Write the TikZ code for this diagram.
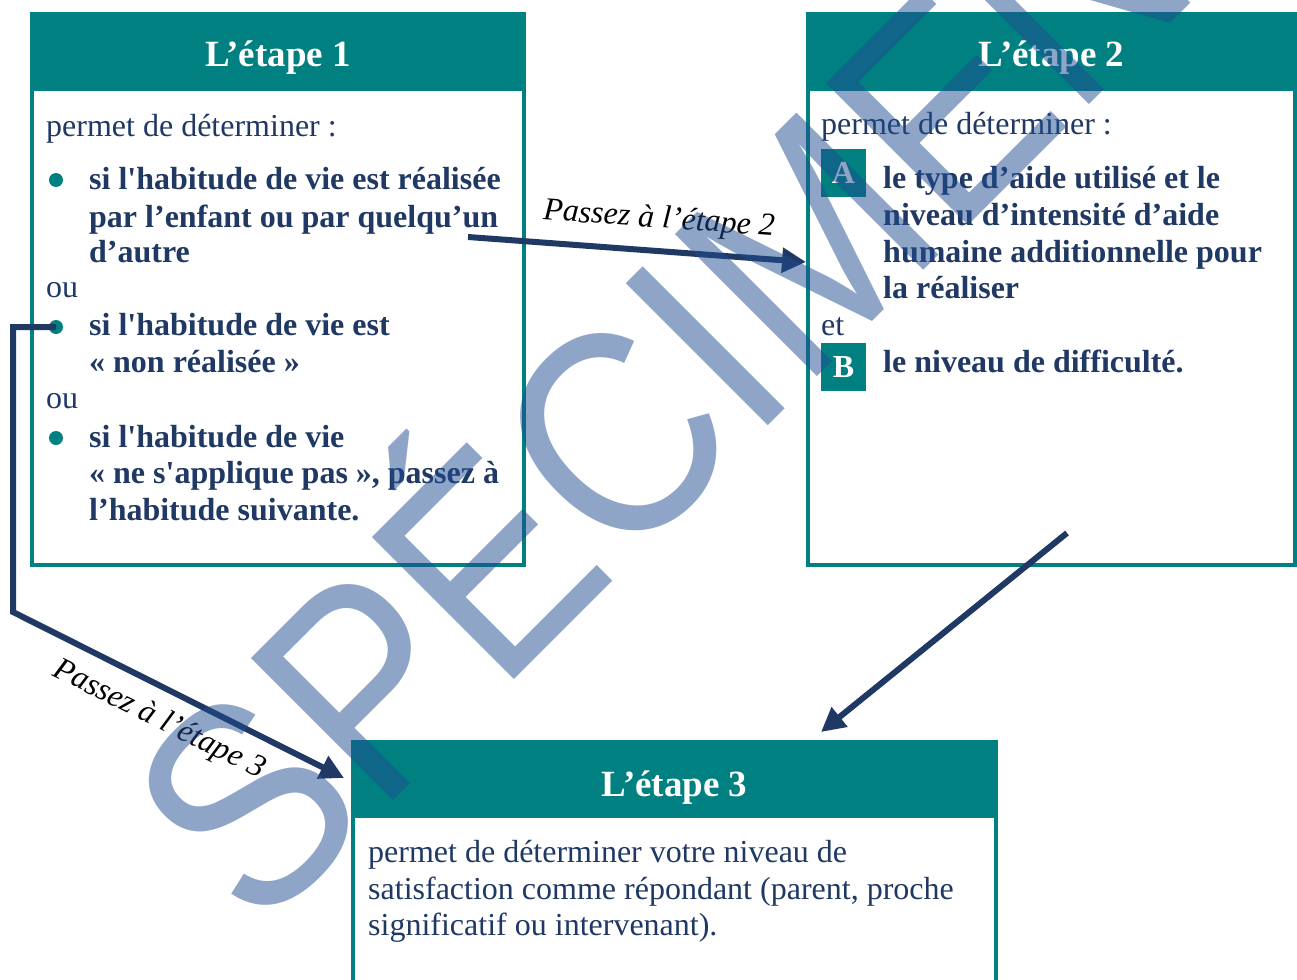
\documentclass[tikz,border=0pt]{standalone}
\usepackage{fontspec}
\setmainfont{Liberation Serif}[Ligatures=TeXOff]
\newfontfamily\wmfont{Liberation Sans}
\usetikzlibrary{arrows.meta}
\definecolor{etapeteal}{HTML}{008080}
\definecolor{etapenavy}{HTML}{1F3864}
\definecolor{wmblue}{HTML}{1F4D91}
\begin{document}
\begin{tikzpicture}[x=1pt,y=-1pt,
 etapebox/.style={draw=etapeteal,line width=4pt,inner sep=0pt},
 etapehead/.style={fill=etapeteal,inner sep=0pt,minimum height=79pt},
 etapetitle/.style={anchor=base,inner sep=0pt,text=white,font=\fontsize{37pt}{40pt}\selectfont\bfseries},
 ligne/.style={anchor=base west,inner sep=0pt,text=etapenavy,font=\fontsize{32pt}{36.8pt}\selectfont},
 ligneb/.style={ligne,font=\fontsize{32pt}{36.8pt}\selectfont\bfseries},
 puce/.style={circle,fill=etapeteal,inner sep=0pt,minimum size=14pt},
 lettre/.style={fill=etapeteal,text=white,inner sep=0pt,minimum width=45pt,minimum height=48pt,font=\fontsize{32pt}{36.8pt}\selectfont\bfseries},
 passez/.style={draw=etapenavy,line width=6pt,-{Triangle[length=24pt,width=24pt]}},
 passezlabel/.style={inner sep=0pt,font=\fontsize{32pt}{36pt}\selectfont\itshape},
 filigrane/.style={anchor=base west,rotate=45,xscale=0.88,inner sep=0pt,text=wmblue,text opacity=0.5,font=\wmfont\fontsize{292pt}{292pt}\selectfont}]
 \path[use as bounding box,fill=white] (0,0) rectangle (1297,979);
 % boxes
 \node[etapebox,minimum width=492pt,minimum height=551pt] (e1) at (278,289.5) {};
 \node[etapehead,minimum width=496pt] (h1) at (278,51.5) {};
 \node[etapetitle] (t1) at (278,67) {L’étape 1};
 \node[etapebox,minimum width=487pt,minimum height=551pt] (e2) at (1051.5,289.5) {};
 \node[etapehead,minimum width=491pt] (h2) at (1051.5,51.5) {};
 \node[etapetitle] (t2) at (1051.5,67) {L’étape 2};
 \node[etapebox,minimum width=643pt,minimum height=256pt] (e3) at (674.5,870) {};
 \node[etapehead,minimum width=647pt,minimum height=78pt] (h3) at (674.5,779) {};
 \node[etapetitle] (t3) at (674.5,796) {L’étape 3};
 % etape 1
 \node[ligne] (p1) at (46,136) {permet de déterminer :};
 \node[puce] (bul1) at (56,180) {};
 \node[ligneb] (a1) at (89,189) {si l'habitude de vie est réalisée};
 \node[ligneb] (a2) at (89,227) {par l’enfant ou par quelqu’un};
 \node[ligneb] (a3) at (89,262) {d’autre};
 \node[ligne] (o1) at (46,297) {ou};
 \node[puce] (bul2) at (56,327) {};
 \node[ligneb] (b1) at (89,335) {si l'habitude de vie est};
 \node[ligneb] (b2) at (89,372) {« non réalisée »};
 \node[ligne] (o2) at (46,408) {ou};
 \node[puce] (bul3) at (56,438) {};
 \node[ligneb] (c1) at (89,447) {si l'habitude de vie};
 \node[ligneb] (c2) at (89,483) {« ne s'applique pas », passez à};
 \node[ligneb] (c3) at (89,520) {l’habitude suivante.};
 % etape 2
 \node[ligne] (q1) at (821,135) {permet de déterminer :};
 \node[lettre] (sqa) at (843.5,173) {A};
 \node[ligneb] (r1) at (883,188) {le type d’aide utilisé et le};
 \node[ligneb] (r2) at (883,225) {niveau d’intensité d’aide};
 \node[ligneb] (r3) at (883,262) {humaine additionnelle pour};
 \node[ligneb] (r4) at (883,298) {la réaliser};
 \node[ligne] (et) at (821,335) {et};
 \node[lettre] (sqb) at (843.5,367) {B};
 \node[ligneb] (r5) at (883,372) {le niveau de difficulté.};
 % etape 3
 \node[ligne] (s1) at (368,862) {permet de déterminer votre niveau de};
 \node[ligne] (s2) at (368,899) {satisfaction comme répondant (parent, proche};
 \node[ligne] (s3) at (368,935) {significatif ou intervenant).};
 % arrows
 \coordinate (d2) at (468,237);
 \coordinate (f2) at (806,262);
 \coordinate (k3) at (13,612);
 \coordinate (f3) at (344,778);
 \coordinate (d4) at (1067,533);
 \coordinate (f4) at (821,732);
 \draw[passez] (d2) -- (f2);
 \draw[passez] (bul2.center) -| (k3) -- (f3);
 \draw[passez] (d4) -- (f4);
 \node[passezlabel,rotate=-4] (l2) at (659,220) {Passez à l’étape 2};
 \node[passezlabel,rotate=-26.5] (l3) at (159,720) {Passez à l’étape 3};
 % watermark
 \node[filigrane] (wm) at (257,937) {SPÉCIMEN};
\end{tikzpicture}
\end{document}
